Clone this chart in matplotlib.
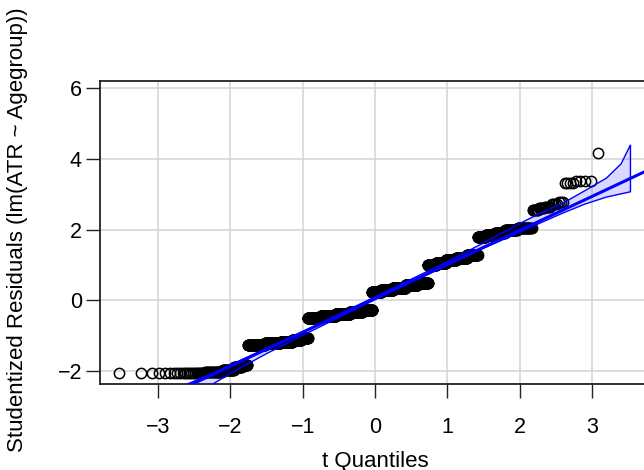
import numpy as np
import matplotlib
matplotlib.use("Agg")
from matplotlib import pyplot as plt
from statistics import NormalDist

# studentized residuals of lm(ATR ~ Agegroup), as distinct values and how often each occurs
resid_values = [-2.08, -2.03, -1.97, -1.91, -1.85,
                -1.28, -1.23, -1.18, -1.12, -1.07,
                -0.52, -0.46, -0.40, -0.33, -0.27,
                0.22, 0.28, 0.35, 0.42, 0.48,
                1.00, 1.06, 1.13, 1.20, 1.27,
                1.78, 1.84, 1.91, 1.98, 2.05,
                2.55, 2.60, 2.65, 2.71, 2.77,
                3.33, 3.37,
                4.16, 6.50, 7.40]
resid_counts = [22, 20, 20, 17, 15,
                60, 75, 75, 65, 54,
                120, 160, 170, 160, 129,
                120, 150, 160, 140, 109,
                80, 85, 80, 70, 57,
                35, 35, 30, 28, 23,
                7, 6, 5, 4, 3,
                4, 4,
                1, 1, 1]
n_groups = 8

# robust reference line
line_intercept = 0.05
line_slope = 0.963

# simulated 95% envelope
env_z = [-3.53, -3.0, -2.5, -2.2, -2.0, -1.5, -1.0, 0.0, 1.0, 1.5, 2.0, 2.3, 2.6, 2.9, 3.2, 3.4, 3.53]
env_lo = [-4.35, -3.40, -2.72, -2.33, -2.08, -1.52, -1.00, 0.01, 0.99, 1.47, 1.92, 2.20, 2.47, 2.72, 2.92, 3.01, 3.07]
env_hi = [-3.05, -2.72, -2.30, -2.03, -1.84, -1.37, -0.90, 0.09, 1.09, 1.62, 2.17, 2.48, 2.75, 3.10, 3.46, 3.86, 4.40]


def t_quantiles(n, df):
    p = (np.arange(1, n + 1) - 0.5) / n
    z = np.array([NormalDist().inv_cdf(q) for q in p])
    # first order correction from normal to t quantiles
    return z + (z ** 3 + z) / (4 * df)


def main():
    plt.rcParams["font.family"] = ["Liberation Sans", "DejaVu Sans"]

    resid = np.sort(np.repeat(resid_values, resid_counts))
    n = len(resid)
    z = t_quantiles(n, n - n_groups - 1)

    fig = plt.figure(figsize=(6.44, 4.70), dpi=100)
    ax = fig.add_axes([100 / 644, 86 / 470, 550 / 644, 303 / 470])

    ax.set_xlim(-3.80, 3.80)
    ax.set_ylim(-2.38, 6.21)
    ax.set_xticks(range(-3, 4))
    ax.set_yticks(range(-2, 7, 2))
    ax.grid(True, color="#d3d3d3", lw=1.1)
    ax.set_axisbelow(True)

    ax.plot(z, resid, "o", mfc="none", mec="black", ms=7.4, mew=1.1, zorder=2)

    ax.fill(np.r_[env_z, env_z[::-1]], np.r_[env_lo, env_hi[::-1]],
            facecolor=(0, 0, 1, 0.15), edgecolor="#0000ff", lw=1.0, zorder=3)
    ax.axline((0, line_intercept), slope=line_slope, color="#0000ff", lw=2.2, zorder=4)

    for side in ax.spines.values():
        side.set_linewidth(1.3)
        side.set_color("#222222")
    ax.tick_params(direction="out", length=10, width=1.0, labelsize=15.5, color="#222222")
    ax.tick_params(axis="x", pad=14)
    ax.tick_params(axis="y", pad=3)

    fig.text(375 / 644, 1 - 461 / 470, "t Quantiles", ha="center", va="center", fontsize=16)
    fig.text(18 / 644, 1 - 230 / 470, "Studentized Residuals (lm(ATR ~ Agegroup))",
             ha="center", va="center", rotation=90, fontsize=16)

    fig.savefig("out.png", dpi=100)


if __name__ == "__main__":
    main()
